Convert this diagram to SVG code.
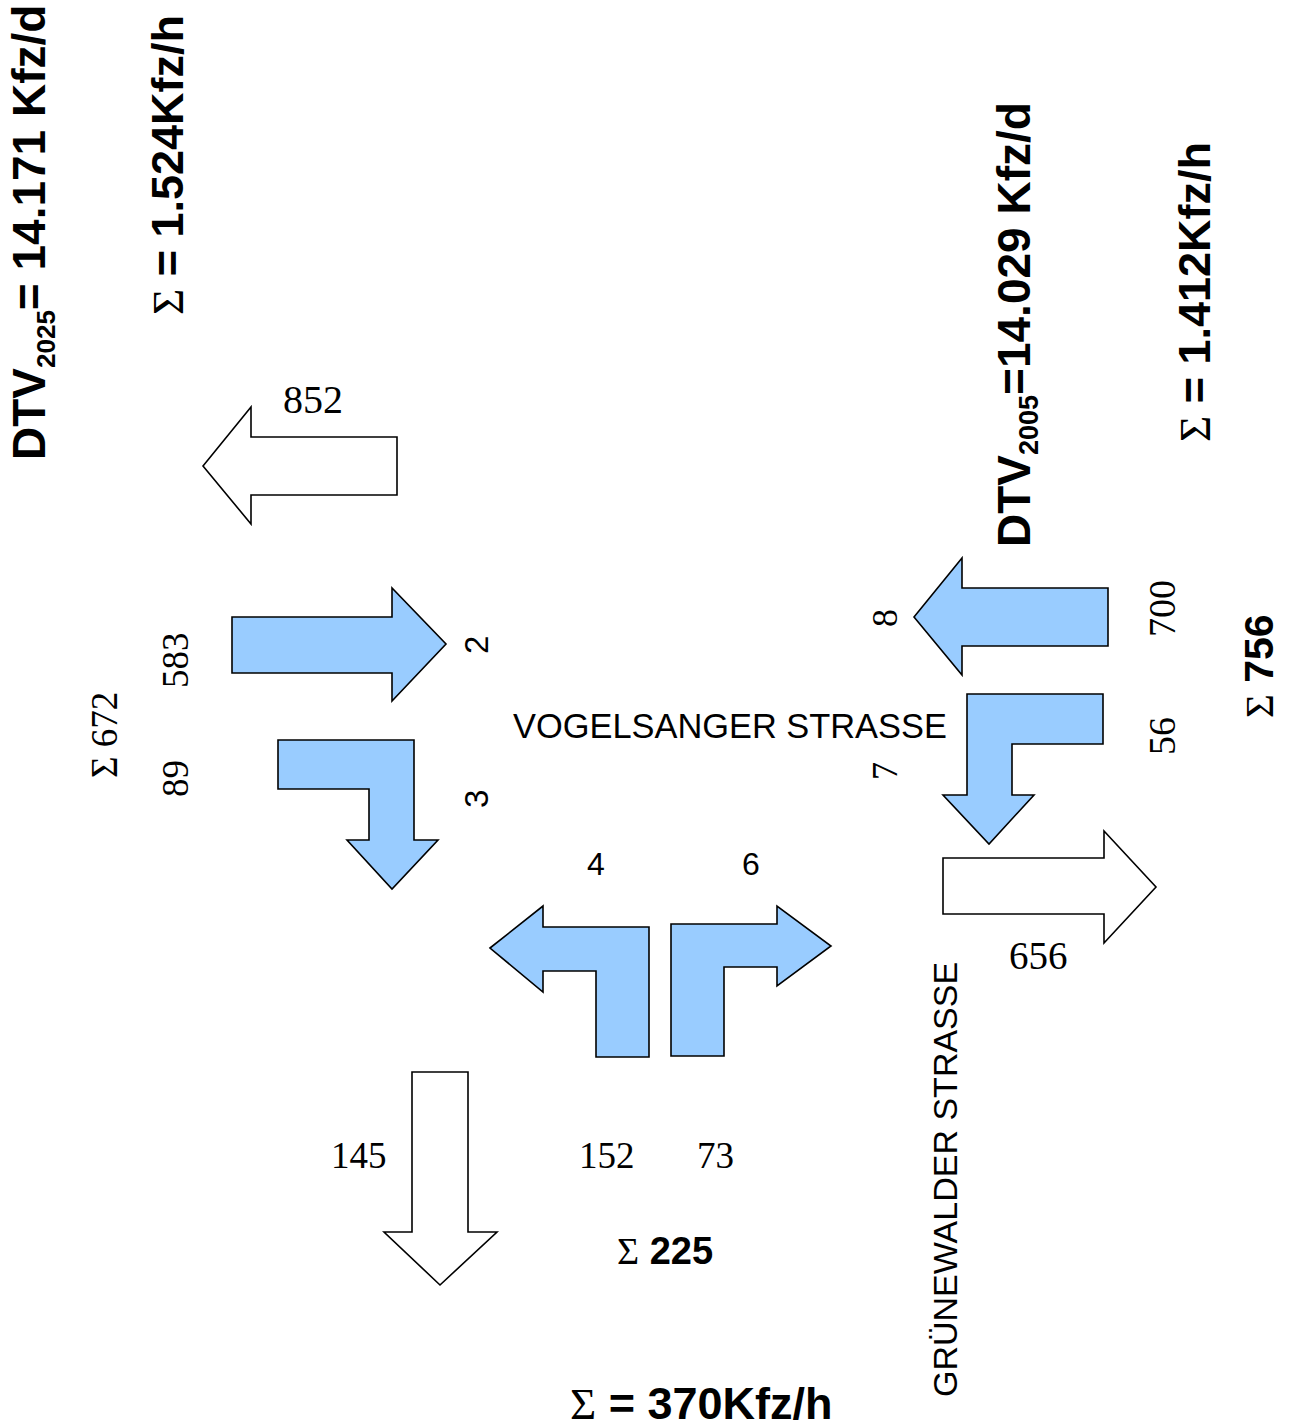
<svg xmlns="http://www.w3.org/2000/svg" width="1291" height="1427" viewBox="0 0 1291 1427">
<style>
.arrow{stroke:#000;stroke-width:1.6;stroke-linejoin:miter}
.blue{fill:#99CCFF}
.white{fill:#FFFFFF}
.bold{font-family:"Liberation Sans",Arial,sans-serif;font-weight:bold;fill:#000}
.sans{font-family:"Liberation Sans",Arial,sans-serif;fill:#000}
.serif{font-family:"Liberation Serif","Times New Roman",serif;fill:#000}
.sig{font-family:"Liberation Serif","Times New Roman",serif;font-weight:normal}
</style>
<rect width="1291" height="1427" fill="#FFFFFF"/>

<g id="titles">
<text class="bold" font-size="46" transform="translate(45,460) rotate(-90)">DTV<tspan font-size="26" dy="10">2025</tspan><tspan dy="-10">= 14.171 Kfz/d</tspan></text>
<text class="bold" font-size="45" transform="translate(183,315) rotate(-90)"><tspan class="sig">Σ</tspan> = 1.524Kfz/h</text>
<text class="bold" font-size="46" transform="translate(1030,547) rotate(-90)">DTV<tspan font-size="27" dy="8">2005</tspan><tspan dy="-8">=14.029 Kfz/d</tspan></text>
<text class="bold" font-size="45" transform="translate(1210,442) rotate(-90)"><tspan class="sig">Σ</tspan> = 1.412Kfz/h</text>
<text class="bold" font-size="45" x="570" y="1419"><tspan class="sig">Σ</tspan> = 370Kfz/h</text>
</g>

<g id="streets">
<text class="sans" font-size="34.4" x="513" y="738">VOGELSANGER STRASSE</text>
<text class="sans" font-size="34" transform="translate(957,1397) rotate(-90)">GRÜNEWALDER STRASSE</text>
</g>

<g id="connectors">
<g id="arrow-852"><polygon class="arrow white" points="203,466 251,407 251,437 397,437 397,495 251,495 251,524"/></g>
<g id="arrow-583"><polygon class="arrow blue" points="232,617 392,617 392,588 446,644 392,701 392,673 232,673"/></g>
<g id="arrow-89"><polygon class="arrow blue" points="278,740 414,740 414,840 438,840 392,889 347,840 369,840 369,789 278,789"/></g>
<g id="arrow-700"><polygon class="arrow blue" points="914,617 962,558 962,588 1108,588 1108,646 962,646 962,675"/></g>
<g id="arrow-56"><polygon class="arrow blue" points="967,694 1103,694 1103,744 1012,744 1012,795 1034,795 989,844 943,795 967,795"/></g>
<g id="arrow-656"><polygon class="arrow white" points="943,858 1104,858 1104,831 1156,887 1104,943 1104,914 943,914"/></g>
<g id="arrow-152"><polygon class="arrow blue" points="490,948 543,906 543,927 649,927 649,1057 596,1057 596,971 543,971 543,992"/></g>
<g id="arrow-73"><polygon class="arrow blue" points="671,924 777,924 777,906 831,946 777,986 777,967 724,967 724,1056 671,1056"/></g>
<g id="arrow-145"><polygon class="arrow white" points="412,1072 468,1072 468,1232 497,1232 440,1285 384,1232 412,1232"/></g>
</g>

<g id="labels">
<text class="serif" font-size="40" x="283" y="413">852</text>
<text class="serif" font-size="37" transform="translate(188,688) rotate(-90)">583</text>
<text class="serif" font-size="37" transform="translate(188,797) rotate(-90)">89</text>
<text class="serif" font-size="37" transform="translate(117,778) rotate(-90)"><tspan class="sig">Σ</tspan> 672</text>
<text class="sans" font-size="33" transform="translate(488,654) rotate(-90)">2</text>
<text class="sans" font-size="33" transform="translate(488,808) rotate(-90)">3</text>
<text class="serif" font-size="36" transform="translate(897,627) rotate(-90)">8</text>
<text class="serif" font-size="36" transform="translate(897,780) rotate(-90)">7</text>
<text class="serif" font-size="38" transform="translate(1175,637) rotate(-90)">700</text>
<text class="serif" font-size="38" transform="translate(1175,755) rotate(-90)">56</text>
<text class="bold" font-size="41" transform="translate(1273,718) rotate(-90)"><tspan class="sig">Σ</tspan> 756</text>
<text class="serif" font-size="39" x="1009" y="969">656</text>
<text class="sans" font-size="32" x="587" y="875">4</text>
<text class="sans" font-size="32" x="742" y="875">6</text>
<text class="serif" font-size="37" x="331" y="1168">145</text>
<text class="serif" font-size="37" x="579" y="1168">152</text>
<text class="serif" font-size="37" x="697" y="1168">73</text>
<text class="bold" font-size="38" x="617" y="1264"><tspan class="sig">Σ</tspan> 225</text>
</g>
</svg>
